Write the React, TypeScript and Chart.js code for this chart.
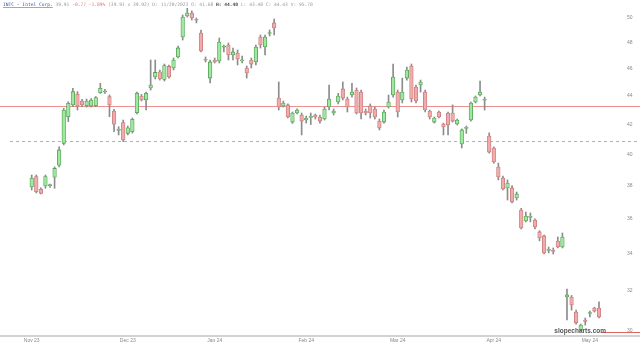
import React, { useEffect, useRef } from "react";
import { Chart, registerables } from "chart.js";

Chart.register(...registerables);

// Daily OHLC values (log price scale)
const open = [
  37.92, 38.57, 37.78, 37.98, 38.0, 38.53, 39.3, 40.73, 42.54, 43.37,
  44.13, 43.65, 43.32, 43.3, 43.32, 44.25, 44.3, 43.96, 42.94, 41.6,
  42.13, 41.4, 41.51, 42.82, 44.01, 43.72, 44.59, 45.4, 45.78, 45.21,
  46.19, 46.07, 46.91, 48.47, 50.17, 50.41, 49.86, 48.79, 46.7, 45.32,
  46.68, 46.6, 47.66, 47.84, 47.06, 47.22, 46.6, 46.07, 46.68, 46.53,
  48.47, 47.68, 48.75, 49.6, 43.86, 43.3, 43.37, 42.17, 42.8, 42.66,
  42.31, 42.5, 42.66, 42.52, 42.38, 43.22, 42.8, 43.58, 44.52, 43.79,
  44.08, 44.44, 44.29, 42.94, 43.3, 43.08, 42.24, 42.17, 43.22, 44.08,
  44.29, 43.72, 45.32, 46.22, 44.66, 44.81, 44.29, 42.94, 42.17, 42.87,
  42.04, 42.8, 42.8, 42.04, 40.69, 41.74, 42.31, 43.58, 44.08, 43.7,
  41.22, 40.42, 39.18, 38.48, 37.86, 37.86, 37.24, 36.52, 35.87, 36.08,
  35.92, 35.23, 35.0, 34.18, 34.17, 34.71, 34.37, 31.67, 31.67, 30.9,
  30.0, 30.5, 30.83, 31.1, 31.1,
];
const high = [
  38.67, 38.67, 37.86, 38.67, 38.1, 39.19, 40.49, 43.13, 43.6, 44.57,
  44.32, 43.77, 43.79, 43.83, 43.97, 44.93, 44.49, 44.08, 43.06, 41.85,
  42.31, 41.9, 42.45, 44.29, 44.12, 44.29, 46.68, 46.68, 45.92, 46.37,
  46.3, 46.83, 47.76, 50.25, 50.8, 50.58, 50.0, 49.03, 46.91, 46.68,
  46.83, 48.39, 47.84, 48.0, 47.6, 47.45, 46.98, 46.22, 46.83, 47.84,
  48.63, 48.63, 49.03, 49.92, 45.03, 43.65, 43.44, 42.87, 43.1, 42.8,
  42.59, 42.8, 42.73, 42.66, 43.22, 44.81, 43.08, 44.2, 45.03, 43.93,
  44.93, 44.59, 44.44, 43.08, 43.44, 43.22, 42.38, 43.01, 44.08, 46.37,
  44.44, 45.32, 46.15, 46.37, 44.81, 45.17, 44.44, 43.01, 42.52, 42.94,
  42.1, 42.87, 43.37, 42.38, 41.7, 41.9, 43.58, 44.01, 45.1, 43.93,
  41.43, 40.49, 39.43, 38.61, 38.36, 38.0, 37.61, 36.62, 36.4, 36.34,
  36.0, 35.3, 35.05, 34.37, 34.32, 34.94, 35.17, 32.09, 31.75, 31.0,
  30.3, 30.6, 30.95, 31.15, 31.42,
];
const low = [
  37.73, 37.55, 37.49, 37.84, 37.9, 37.84, 39.19, 40.62, 42.2, 43.24,
  43.01, 43.24, 43.22, 43.22, 43.24, 44.2, 44.2, 42.54, 41.51, 41.29,
  40.84, 41.29, 41.42, 42.73, 43.65, 43.01, 44.44, 45.25, 45.17, 45.1,
  45.32, 45.92, 46.83, 48.23, 50.08, 49.84, 49.6, 47.3, 46.53, 44.96,
  46.45, 46.45, 47.3, 46.68, 46.68, 46.3, 46.45, 45.32, 46.07, 46.3,
  47.6, 47.06, 48.55, 48.63, 43.01, 43.22, 42.45, 42.08, 42.73, 41.29,
  42.1, 42.0, 42.38, 42.1, 42.31, 43.01, 42.66, 43.44, 43.72, 42.87,
  43.93, 42.73, 42.38, 42.66, 42.45, 42.38, 41.63, 42.1, 43.15, 43.93,
  42.52, 43.51, 45.17, 43.58, 43.51, 44.29, 42.87, 42.38, 42.1, 42.45,
  41.29, 41.29, 42.17, 41.97, 40.42, 41.4, 42.24, 43.51, 44.01, 43.01,
  40.08, 39.42, 38.36, 37.74, 37.12, 36.94, 37.12, 35.4, 35.81, 35.81,
  35.4, 34.72, 33.98, 34.04, 33.98, 34.32, 34.32, 30.5, 31.0, 30.3,
  29.95, 30.25, 30.65, 30.9, 30.6,
];
const close = [
  38.48, 37.63, 37.53, 38.57, 38.03, 39.09, 40.29, 43.01, 43.49, 44.32,
  43.3, 43.37, 43.65, 43.72, 43.89, 44.57, 44.34, 43.37, 42.02, 41.64,
  40.95, 41.78, 42.36, 44.2, 43.72, 44.2, 44.81, 45.74, 45.25, 46.26,
  45.4, 46.68, 47.61, 50.08, 50.41, 50.0, 49.82, 47.37, 46.66, 46.53,
  46.53, 48.07, 47.72, 47.06, 47.3, 46.76, 46.7, 45.7, 46.37, 47.68,
  47.84, 48.47, 48.82, 49.2, 43.22, 43.51, 42.52, 42.8, 43.01, 42.24,
  42.45, 42.54, 42.52, 42.24, 43.08, 43.79, 42.94, 44.01, 43.86, 43.22,
  44.29, 42.8, 42.8, 42.8, 42.8, 42.52, 41.76, 42.87, 43.58, 45.4,
  42.87, 44.29, 45.92, 43.79, 43.65, 45.03, 43.01, 42.52, 42.45, 42.52,
  41.83, 41.97, 42.24, 42.31, 41.63, 41.8, 43.51, 43.93, 44.29, 43.74,
  40.15, 39.5, 38.55, 37.8, 38.17, 37.0, 37.49, 35.46, 36.16, 36.12,
  35.52, 34.88, 34.04, 34.22, 34.13, 34.37, 34.94, 31.78, 31.26, 30.36,
  30.25, 30.43, 30.87, 30.95, 30.65,
];

const monthLabels = ["Nov 23", "Dec 23", "Jan 24", "Feb 24", "Mar 24", "Apr 24", "May 24"];
const monthTickIndex = [0, 21, 40, 60, 80, 101, 122];
const priceTicks = [30, 32, 34, 36, 38, 40, 42, 44, 46, 48, 50];

const resistanceLevel = 43.29;
const supportLevel = 40.88;
const lastPrice = 29.92;

const headerParts: [string, string, boolean, boolean][] = [
  ["INTC - Intel Corp.", "#2b4fa8", false, true],
  [" 39.91", "#9a9a9a", false, false],
  [" -0.77 -1.89%", "#e07a7a", false, false],
  [" (39.91 x 39.92) D: 11/20/2023 O: 41.68 ", "#9a9a9a", false, false],
  ["H: 44.40", "#444444", true, false],
  [" L: 43.48 C: 44.43 V: 95.70", "#9a9a9a", false, false],
];
const watermark = "slopecharts.com";

// axis ranges
const X_MIN = -6.93;
const X_MAX = 128.59;
const Y_MIN = 29.762;
const Y_MAX = 51.495;

const overlayPlugin = {
  id: "overlay",
  beforeDatasetsDraw(chart: any) {
    const ctx = chart.ctx;
    const ys = chart.scales.y;
    const W = chart.width;
    ctx.save();
    const yr = Math.round(ys.getPixelForValue(resistanceLevel)) + 0.5;
    ctx.strokeStyle = "#ec9090";
    ctx.lineWidth = 1;
    ctx.beginPath();
    ctx.moveTo(0, yr);
    ctx.lineTo(W, yr);
    ctx.stroke();
    const yd = Math.round(ys.getPixelForValue(supportLevel)) + 0.5;
    ctx.setLineDash([3, 3]);
    ctx.strokeStyle = "#acacdc";
    ctx.beginPath();
    ctx.moveTo(10, yd);
    ctx.lineTo(W, yd);
    ctx.stroke();
    ctx.restore();
  },
  afterDraw(chart: any) {
    const ctx = chart.ctx;
    const ys = chart.scales.y;
    const W = chart.width;
    const area = chart.chartArea;
    ctx.save();
    // bottom axis line
    ctx.strokeStyle = "#d2d2d2";
    ctx.lineWidth = 2;
    ctx.beginPath();
    ctx.moveTo(0, area.bottom + 1);
    ctx.lineTo(W, area.bottom + 1);
    ctx.stroke();
    // last price line
    const yl = Math.round(ys.getPixelForValue(lastPrice)) + 0.5;
    ctx.strokeStyle = "#e06464";
    ctx.lineWidth = 1.2;
    ctx.beginPath();
    ctx.moveTo(601, yl);
    ctx.lineTo(W, yl);
    ctx.stroke();
    // watermark
    ctx.font = "bold 6.5px 'Liberation Sans'";
    ctx.fillStyle = "#555555";
    ctx.textAlign = "right";
    ctx.textBaseline = "middle";
    ctx.fillText(watermark, 606, 331);
    // header
    ctx.textAlign = "left";
    let x = 3;
    const y = 5;
    for (const [txt, color, bold, underline] of headerParts) {
      ctx.font = `${bold ? "bold " : ""}4.6px 'DejaVu Sans Mono'`;
      ctx.fillStyle = color;
      ctx.fillText(txt, x, y);
      const w = ctx.measureText(txt).width;
      if (underline) {
        ctx.strokeStyle = color;
        ctx.lineWidth = 0.5;
        ctx.beginPath();
        ctx.moveTo(x, y + 2.5);
        ctx.lineTo(x + w, y + 2.5);
        ctx.stroke();
      }
      x += w;
    }
    ctx.restore();
  },
};

export default function App() {
  const ref = useRef<HTMLCanvasElement>(null);
  useEffect(() => {
    const canvas = ref.current;
    if (!canvas) return;
    const idx = open.map((_, i) => i);
    const up = open.map((o, i) => close[i] >= o);
    const chart = new Chart(canvas, {
      type: "bar",
      data: {
        datasets: [
          {
            label: "body",
            data: idx.map((i) => ({ x: i, y: [open[i], close[i]] })) as any,
            backgroundColor: up.map((u) => (u ? "#9fe89f" : "#f2abab")),
            borderColor: up.map((u) => (u ? "#539f53" : "#c47a7a")),
            borderWidth: 0.8,
            borderSkipped: false,
            barThickness: 3.6,
            minBarLength: 1,
            grouped: false,
            order: 0,
          } as any,
          {
            label: "wick",
            data: idx.map((i) => ({ x: i, y: [low[i], high[i]] })) as any,
            backgroundColor: "#8c8c8c",
            borderWidth: 0,
            barThickness: 1,
            grouped: false,
            order: 1,
          } as any,
        ],
      },
      options: {
        animation: false,
        responsive: false,
        devicePixelRatio: 1,
        layout: { padding: 0, autoPadding: false },
        plugins: { legend: { display: false }, tooltip: { enabled: false } },
        scales: {
          x: {
            type: "linear",
            min: X_MIN,
            max: X_MAX,
            offset: false,
            bounds: "data",
            grid: { display: false, drawTicks: false },
            border: { display: false },
            afterBuildTicks: (s: any) => {
              s.ticks = monthTickIndex.map((v) => ({ value: v }));
            },
            afterFit: (s: any) => {
              s.height = 12;
              s.paddingLeft = 0;
              s.paddingRight = 0;
              s.paddingTop = 0;
              s.paddingBottom = 0;
            },
            ticks: {
              autoSkip: false,
              maxRotation: 0,
              padding: 3,
              color: "#8a8a8a",
              font: { size: 5, family: "'Liberation Sans'" },
              callback: (v: any) => {
                const k = monthTickIndex.indexOf(Number(v));
                return k >= 0 ? monthLabels[k] : "";
              },
            },
          },
          y: {
            type: "logarithmic",
            position: "right",
            min: Y_MIN,
            max: Y_MAX,
            bounds: "data",
            grid: { display: false, drawTicks: false },
            border: { display: false },
            afterBuildTicks: (s: any) => {
              s.ticks = priceTicks.map((v) => ({ value: v }));
            },
            afterFit: (s: any) => {
              s.width = 20;
              s.paddingTop = 0;
              s.paddingBottom = 0;
              s.paddingLeft = 0;
              s.paddingRight = 0;
            },
            ticks: {
              padding: 7,
              color: "#8a8a8a",
              font: { size: 5, family: "'Liberation Sans'" },
              callback: (v: any) => String(v),
            },
          },
        },
      } as any,
      plugins: [overlayPlugin],
    });
    return () => chart.destroy();
  }, []);
  return (
    <div style={{ position: "absolute", left: 0, top: 0, width: 640, height: 347, background: "#ffffff" }}>
      <canvas ref={ref} width={640} height={347} style={{ display: "block" }} />
    </div>
  );
}
